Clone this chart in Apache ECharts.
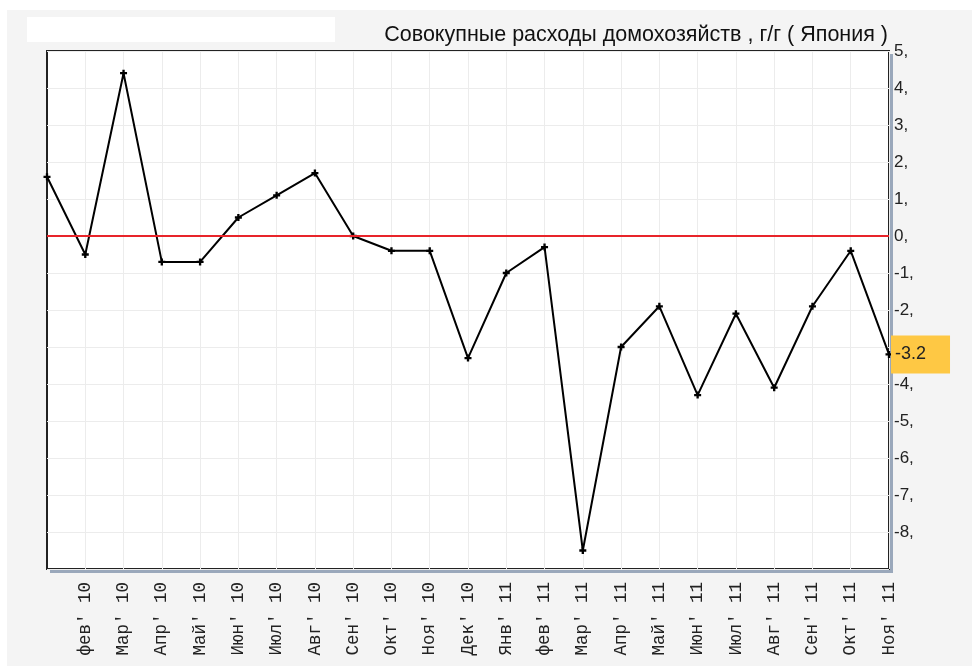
<!DOCTYPE html>
<html>
<head>
<meta charset="utf-8">
<script src="https://cdn.jsdelivr.net/npm/echarts@6/dist/echarts.min.js"></script>
<style>
  html, body { margin: 0; padding: 0; background: #ffffff; }
  #chart { position: absolute; left: 7px; top: 10px; width: 965px; height: 656px; background: #f4f4f4; }
</style>
</head>
<body>
<div id="chart"></div>
<script>
  var months = ["Янв", "фев", "Мар", "Апр", "Май", "Июн", "Июл", "Авг", "Сен", "Окт", "Ноя", "Дек"];
  var years = ["10", "10", "10", "10", "10", "10", "10", "10", "10", "10", "10", "10",
               "11", "11", "11", "11", "11", "11", "11", "11", "11", "11", "11"];
  var spending = [1.6, -0.5, 4.4, -0.7, -0.7, 0.5, 1.1, 1.7, 0.0, -0.4, -0.4, -3.3,
                  -1.0, -0.3, -8.5, -3.0, -1.9, -4.3, -2.1, -4.1, -1.9, -0.4, -3.2];
  var titleText = "Совокупные расходы домохозяйств , г/г ( Япония )";
  var yMin = -9, yMax = 5;

  var categories = [];
  for (var i = 0; i < years.length; i++) {
    categories.push(months[i % 12] + "' " + years[i]);
  }
  var lastValue = spending[spending.length - 1];

  // plot frame, in px inside the chart div
  var gridLeft = 40, gridRight = 83, gridTop = 41, gridBottom = 97;
  var plotW = 965 - gridLeft - gridRight, plotH = 656 - gridTop - gridBottom;

  var chart = echarts.init(document.getElementById("chart"));
  chart.setOption({
    animation: false,
    title: {
      text: titleText,
      right: 79,
      top: 9,
      textStyle: { fontFamily: "Liberation Sans", fontSize: 21.5, fontWeight: "normal", color: "#111" }
    },
    graphic: [
      {
        type: "rect",
        left: 20, top: 7,
        shape: { width: 308, height: 25 },
        style: { fill: "#ffffff" }
      },
      {
        // drop shadow of the plot frame (right and bottom)
        type: "rect",
        z: -1,
        left: gridLeft + 3, top: gridTop + 3,
        shape: { width: plotW + 1, height: plotH + 1 },
        style: { fill: "#9aa8bb" }
      }
    ],
    grid: {
      left: gridLeft, right: gridRight, top: gridTop, bottom: gridBottom,
      show: true,
      backgroundColor: "#ffffff",
      borderColor: "#222",
      borderWidth: 2
    },
    xAxis: {
      type: "category",
      data: categories,
      boundaryGap: false,
      axisLine: { show: false },
      axisTick: { show: false },
      axisLabel: {
        rotate: 90,
        margin: 13,
        interval: function(index) { return index > 0; },
        fontFamily: "Liberation Mono",
        fontSize: 17.5,
        color: "#222"
      },
      splitLine: { show: true, lineStyle: { color: "#ececec", width: 1 } }
    },
    yAxis: {
      type: "value",
      position: "right",
      min: yMin,
      max: yMax,
      interval: 1,
      axisLine: { show: false },
      axisTick: { show: false },
      axisLabel: {
        margin: 5,
        fontFamily: "Liberation Sans",
        fontSize: 17,
        color: "#222",
        formatter: function(v) {
          if (v === yMin || v === -3) return "";
          return v + ",";
        }
      },
      splitLine: { show: true, lineStyle: { color: "#ececec", width: 1 } }
    },
    series: [{
      type: "line",
      data: spending,
      clip: false,
      symbol: "path://M2,0h2v2h2v2h-2v2h-2v-2h-2v-2h2z",
      symbolSize: 7,
      showSymbol: true,
      itemStyle: { color: "#000" },
      lineStyle: { color: "#000", width: 2 },
      markLine: {
        silent: true,
        symbol: "none",
        data: [
          {
            yAxis: 0,
            lineStyle: { color: "#e8242a", width: 2, type: "solid" },
            label: { show: false }
          },
          {
            yAxis: lastValue,
            lineStyle: { color: "rgba(0,0,0,0)", width: 1 },
            label: {
              show: true,
              position: "end",
              distance: 2,
              formatter: String(lastValue),
              backgroundColor: "#fec844",
              color: "#222",
              fontFamily: "Liberation Sans",
              fontSize: 18,
              padding: [10, 24, 10, 4]
            }
          }
        ]
      }
    }]
  });
</script>
</body>
</html>
